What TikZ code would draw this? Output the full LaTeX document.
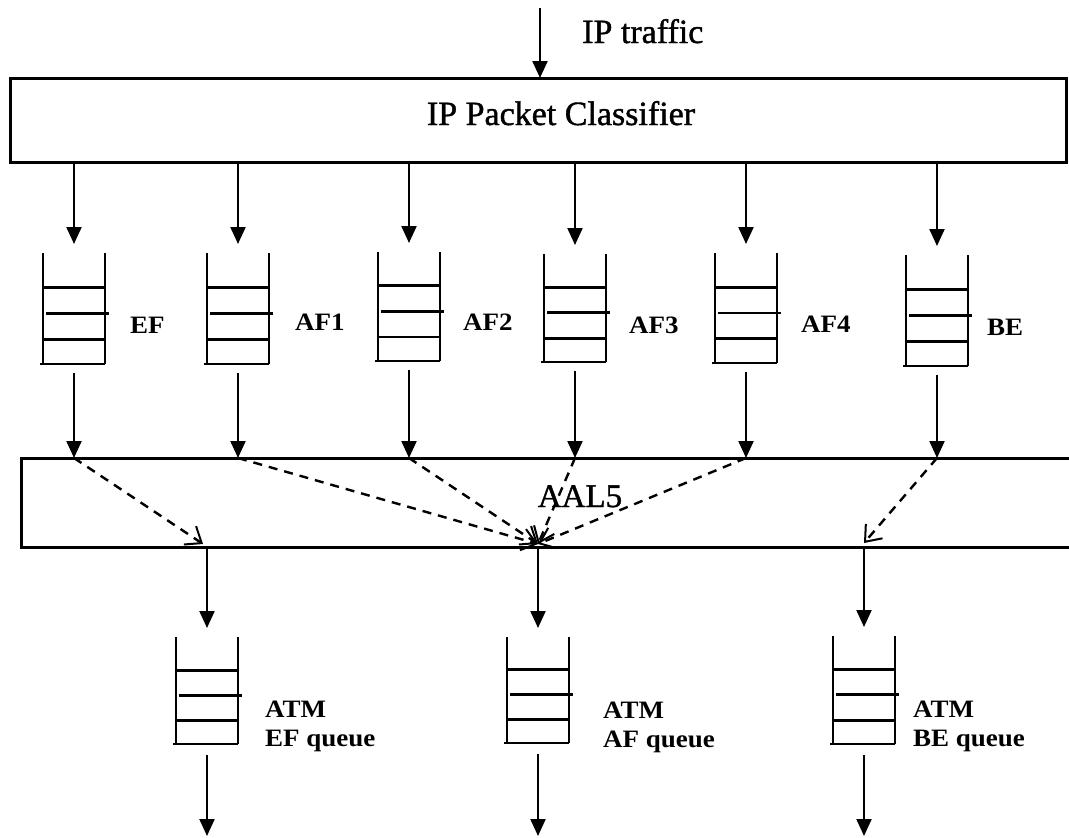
\documentclass[tikz,border=0pt]{standalone}
\usepackage{fontspec}
\setmainfont{Liberation Serif}
\newfontfamily\heavyfont[FakeBold=1.2]{Liberation Serif}
\newfontfamily\lblfont[FakeStretch=1.08]{Liberation Serif}
\usetikzlibrary{arrows.meta,calc}

\tikzset{
  frame/.style={draw, line width=3pt, inner sep=0pt, outer sep=0pt},
  arr/.style={line width=2.2pt, -{Triangle[length=17pt,width=15pt]}},
  dasharr/.style={line width=2.4pt, dash pattern=on 9pt off 7pt,
    -{Straight Barb[length=14pt,width=22pt,line width=2pt]}},
  qbox/.style={inner sep=0pt, outer sep=0pt, minimum width=62pt},
  qline/.style={line width=2.8pt},
  big/.style={font=\heavyfont\fontsize{34}{40}\selectfont, inner sep=0pt},
  qlabel/.style={font=\lblfont\bfseries\fontsize{25}{29}\selectfont,
    inner sep=0pt, anchor=base west},
}

% a FIFO buffer: name, centre x, top y, height
\newcommand\fifo[4]{%
  \node[qbox, minimum height=#4pt] (#1) at (#2,{#3+#4/2}) {};
  \draw[qline] (#1.north west) -- (#1.south west)
               (#1.north east) -- (#1.south east)
               ($(#1.south west)+(-3,0)$) -- (#1.south east)
               ($(#1.north west)!0.31!(#1.south west)$) -- ($(#1.north east)!0.31!(#1.south east)$)
               ($(#1.north west)!0.78!(#1.south west)$) -- ($(#1.north east)!0.78!(#1.south east)$);
  \draw[qline] ($(#1.north west)!0.545!(#1.south west)+(3,0)$) -- ($(#1.north east)!0.545!(#1.south east)+(4,0)$);
}

\begin{document}
\begin{tikzpicture}[x=1pt,y=-1pt]
\useasboundingbox (0,0) rectangle (1069,838);
\clip (0,0) rectangle (1069,838);

% classifier stage
\node[frame, minimum width=1056pt, minimum height=84pt] (cls) at (538,120) {};
\node[big, anchor=base] (clsText) at (561,125) {IP Packet Classifier};
\coordinate (src) at (540,8);
\draw[arr] (src) -- (src |- cls.north);
\node[big, anchor=base west] (traffic) at (582,43) {IP traffic};

% per-class IP queues
\fifo{qEF}{74}{253}{111}
\fifo{qAFa}{238}{253}{111}
\fifo{qAFb}{409}{252}{109}
\fifo{qAFc}{575}{254}{108}
\fifo{qAFd}{746}{253}{110}
\fifo{qBE}{937}{255}{111}

\node[qlabel] (lEF)  at (130,333) {EF};
\node[qlabel] (lAFa) at (295,330) {AF1};
\node[qlabel] (lAFb) at (463,330) {AF2};
\node[qlabel] (lAFc) at (629,333) {AF3};
\node[qlabel] (lAFd) at (801,332) {AF4};
\node[qlabel] (lBE)  at (987,335) {BE};

% adaptation layer
\node[frame, minimum width=1080pt, minimum height=89pt] (aal) at (561,502.5) {};
\node[font=\heavyfont\fontsize{33}{40}\selectfont, inner sep=0pt, anchor=base] (aalText) at (580,507) {AAL5};

\foreach \q in {qEF,qAFa,qAFb,qAFc,qAFd,qBE}{
  \draw[arr, shorten >=9pt] (cls.south -| \q.north) -- (\q.north);
  \draw[arr] ([yshift=-9pt]\q.south) -- (\q.south |- aal.north);
}

% ATM queues
\fifo{aEF}{207}{637}{107}
\fifo{aAF}{538}{637}{106}
\fifo{aBE}{864}{636}{108}

\node[qlabel, align=left, anchor=north west] (lATMEF) at (265,701) {ATM\\EF queue};
\node[qlabel, align=left, anchor=north west] (lATMAF) at (603,702) {ATM\\AF queue};
\node[qlabel, align=left, anchor=north west] (lATMBE) at (913,701) {ATM\\BE queue};

% class to ATM queue mapping
\coordinate (tEF) at ($(aal.south -| aEF.north)+(-4,-3)$);
\coordinate (tAF) at ($(aal.south -| aAF.north)+(0,-3)$);
\coordinate (tBE) at ($(aal.south -| aBE.north)+(0,-4)$);
\draw[dasharr] (qEF.south |- aal.north) -- (tEF);
\foreach \q in {qAFa,qAFb,qAFc,qAFd}{
  \draw[dasharr] (\q.south |- aal.north) -- (tAF);
}
\draw[dasharr] (qBE.south |- aal.north) -- (tBE);

\foreach \q in {aEF,aAF,aBE}{
  \coordinate (\q-out) at (\q.south |- 0,836);
  \draw[arr, shorten >=9pt] (aal.south -| \q.north) -- (\q.north);
  \draw[arr] ([yshift=-11pt]\q.south) -- (\q-out);
}
\end{tikzpicture}
\end{document}
